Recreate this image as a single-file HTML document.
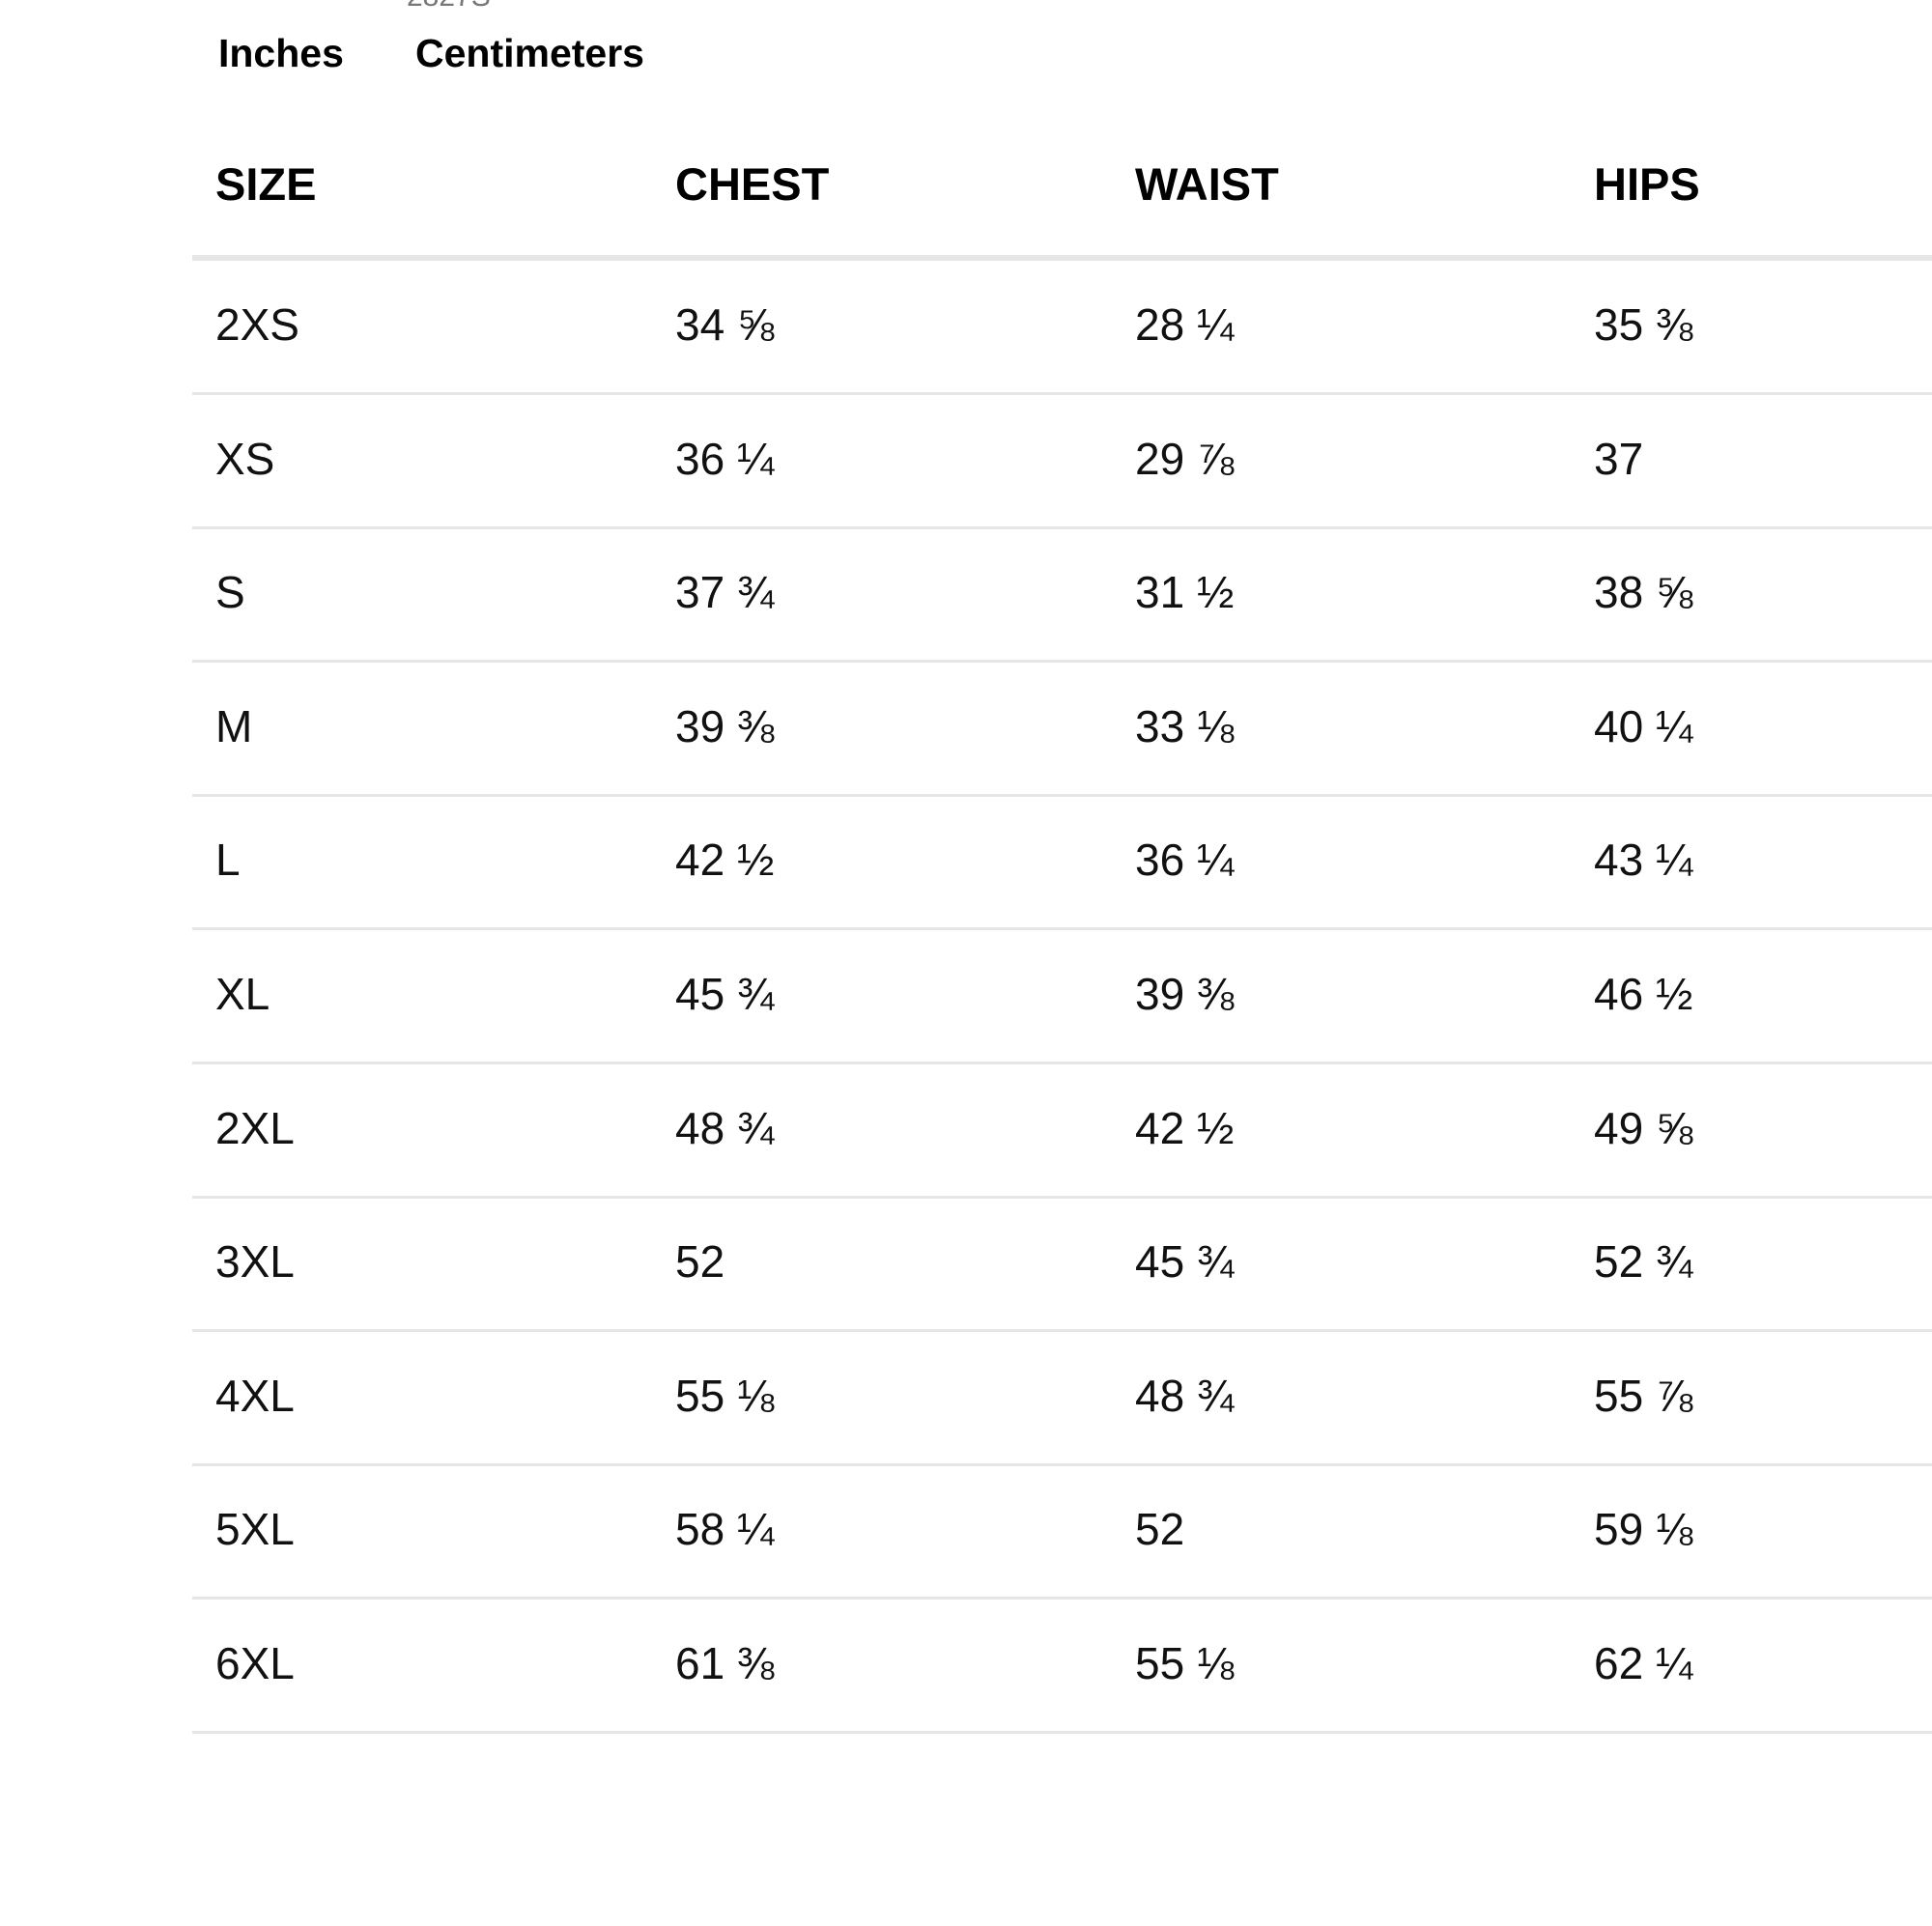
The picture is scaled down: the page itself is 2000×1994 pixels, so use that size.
<!DOCTYPE html>
<html><head><meta charset="utf-8"><style>
body{margin:0;width:2000px;height:1994px;background:#fff;position:relative;overflow:hidden;font-family:"Liberation Sans","DejaVu Sans",sans-serif;color:#111}
.t{position:absolute;line-height:1;white-space:nowrap}
.h{font-size:47px;font-weight:bold;color:#000}
.v{font-size:46px}
.line{position:absolute;left:199px;right:0;height:3px;background:#e6e6e6}
</style></head><body>
<div class="t" style="left:421px;top:-18px;font-size:30px;color:#777">2827S</div>
<div class="t" style="left:226px;top:35px;font-size:41px;font-weight:bold;color:#000">Inches</div>
<div class="t" style="left:430px;top:35px;font-size:41px;font-weight:bold;color:#000">Centimeters</div>
<div class="t h" style="left:223px;top:167px">SIZE</div>
<div class="t h" style="left:699px;top:167px">CHEST</div>
<div class="t h" style="left:1175px;top:167px">WAIST</div>
<div class="t h" style="left:1650px;top:167px">HIPS</div>
<div class="line" style="top:264px;height:6px"></div>
<div id="rows"></div>
<script>
var d=[["2XS","34 ⅝","28 ¼","35 ⅜"],["XS","36 ¼","29 ⅞","37"],["S","37 ¾","31 ½","38 ⅝"],["M","39 ⅜","33 ⅛","40 ¼"],["L","42 ½","36 ¼","43 ¼"],["XL","45 ¾","39 ⅜","46 ½"],["2XL","48 ¾","42 ½","49 ⅝"],["3XL","52","45 ¾","52 ¾"],["4XL","55 ⅛","48 ¾","55 ⅞"],["5XL","58 ¼","52","59 ⅛"],["6XL","61 ⅜","55 ⅛","62 ¼"]];
var xs=[223,699,1175,1650],h="";
d.forEach(function(r,i){var top=313+i*138.6;r.forEach(function(c,j){h+='<div class="t v" style="left:'+xs[j]+'px;top:'+top+'px">'+c+'</div>';});h+='<div class="line" style="top:'+(406+i*138.6)+'px"></div>';});
document.getElementById("rows").innerHTML=h;
</script>
</body></html>
